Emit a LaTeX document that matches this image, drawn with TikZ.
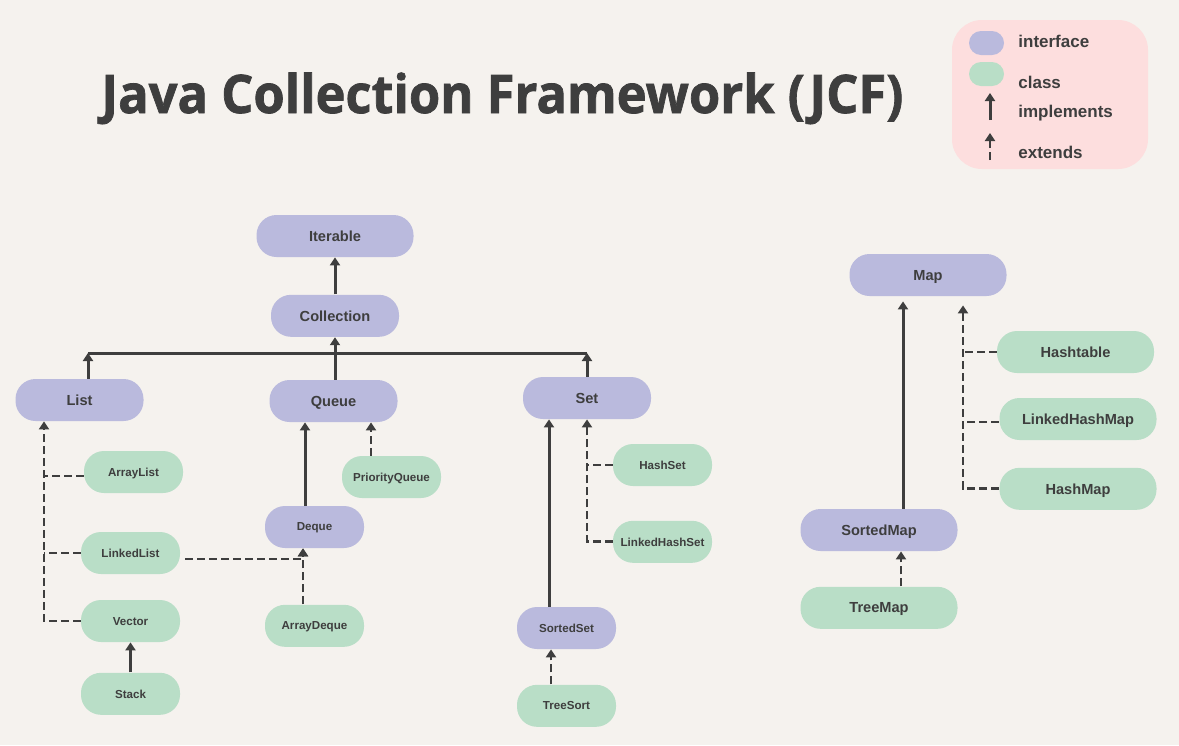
\documentclass[tikz,border=0pt]{standalone}
\usepackage{fontspec}
\setmainfont{Liberation Sans}
\newfontfamily\titlefont{Open Sans}[BoldFeatures={FakeBold=1.4}]
\usepackage{graphicx}
\usetikzlibrary{arrows.meta, positioning, calc}
\definecolor{bgcol}{HTML}{F5F2EE}
\definecolor{ink}{HTML}{3E3E3E}
\definecolor{ifcfill}{HTML}{BABADD}
\definecolor{clsfill}{HTML}{B9DEC7}
\definecolor{legfill}{HTML}{FDDEDE}
\tikzstyle{line} = [draw, -{Triangle[length=4pt,width=5pt]}, line width=1.5pt, color=ink]
\tikzstyle{dline} = [line, line width=1.4pt, dash pattern=on 4pt off 2pt]
\tikzstyle{bar} = [draw, line width=1.5pt, color=ink]
\tikzstyle{rail} = [bar, line width=1.4pt, dash pattern=on 4pt off 2pt]
\tikzstyle{iface} = [rectangle, fill=ifcfill, rounded corners=10pt,
  minimum height=21pt, inner sep=0pt, text=ink, text centered, text depth=0pt,
  font=\bfseries\fontsize{7.3}{8}\selectfont]
\tikzstyle{cls} = [iface, fill=clsfill]
\tikzstyle{wide} = [minimum width=78.5pt]
\tikzstyle{mid} = [minimum width=64pt]
\tikzstyle{small} = [minimum width=49.5pt, font=\bfseries\fontsize{5.8}{7}\selectfont]
\tikzstyle{legtext} = [anchor=west, inner sep=0pt, text=ink,
  font=\bfseries\fontsize{8.5}{10}\selectfont]

\begin{document}
\begin{tikzpicture}[x=0.5pt, y=-0.5pt, node distance=15pt]
    \fill [bgcol] (0,0) rectangle (1179,745);

    \node [anchor=base west, inner sep=0pt, text=ink] (title) at (101,113)
      {\titlefont\bfseries\fontsize{26.6}{32}\selectfont\resizebox{401pt}{\height}{Java Collection Framework (JCF)}};

    % legend
    \fill [legfill, rounded corners=15pt] (952,20) rectangle (1148,169);
    \node [iface, minimum width=17.5pt, minimum height=12pt, rounded corners=6pt] (keyifc) at (986.5,43) {};
    \node [cls, minimum width=17.5pt, minimum height=12pt, rounded corners=6pt] (keycls) at (986.5,74) {};
    \node [legtext] (keyifctext) at (1018,41) {interface};
    \node [legtext] (keyclstext) at (1018,82) {class};
    \node [legtext] (keyimptext) at (1018,113) {implements};
    \node [legtext] (keyexttext) at (1018,152) {extends};
    \coordinate (keyimpa) at (990,120);
    \coordinate (keyimpb) at (990,93);
    \coordinate (keyexta) at (990,160);
    \coordinate (keyextb) at (990,133);
    \path [line] (keyimpa) -- (keyimpb);
    \path [dline] (keyexta) -- (keyextb);

    % collection tree
    \node [iface, wide] (iterable) at (335,236) {Iterable};
    \node [iface, mid, below=18.5pt of iterable] (collection) {Collection};
    \node [iface, mid] (list) at (79.5,400) {List};
    \node [iface, mid] (queue) at (333.5,401) {Queue};
    \node [iface, mid] (set) at (587,398) {Set};

    \node [cls, small] (arraylist) at (133.5,472) {ArrayList};
    \node [cls, small] (linkedlist) at (130.5,553) {LinkedList};
    \node [cls, small] (vector) at (130.5,621) {Vector};
    \node [cls, small, below=of vector] (stack) {Stack};

    \node [cls, small] (priorityqueue) at (391.5,477) {PriorityQueue};
    \node [iface, small] (deque) at (314.5,527) {Deque};
    \node [cls, small, below=28pt of deque] (arraydeque) {ArrayDeque};

    \node [cls, small] (hashset) at (662.5,465) {HashSet};
    \node [cls, small, below=17pt of hashset] (linkedhashset) {LinkedHashSet};
    \node [iface, small] (sortedset) at (566.5,628) {SortedSet};
    \node [cls, small, below=17.5pt of sortedset] (treesort) {TreeSort};

    % map tree
    \node [iface, wide] (map) at (928,275) {Map};
    \node [cls, wide] (hashtable) at (1075.5,352) {Hashtable};
    \node [cls, wide] (linkedhashmap) at (1078,419) {LinkedHashMap};
    \node [cls, wide, below=13.5pt of linkedhashmap] (hashmap) {HashMap};
    \node [iface, wide] (sortedmap) at (879,530) {SortedMap};
    \node [cls, wide, below=17.5pt of sortedmap] (treemap) {TreeMap};

    \coordinate (bus) at (0,353);
    \coordinate (listtop) at ([xshift=4.25pt]list.north);
    \coordinate (lrail) at ([xshift=-17.75pt]list.south);
    \coordinate (dqtop) at ([xshift=-4.75pt]deque.north);
    \coordinate (pqtop) at ([xshift=-10.25pt]priorityqueue.north);
    \coordinate (dqfoot) at ([xshift=-5.75pt]deque.south);
    \coordinate (sstop) at ([xshift=-8.75pt]sortedset.north);
    \coordinate (tstop) at ([xshift=-7.75pt]treesort.north);
    \coordinate (smtop) at ([xshift=12pt]sortedmap.north);
    \coordinate (mrail) at ([xshift=17.5pt]map.south);
    \coordinate (tmtop) at ([xshift=11pt]treemap.north);

    \path [line] (collection) -- (iterable);
    \path [line] (queue.north -| collection) -- (collection);
    \path [bar] (listtop |- bus) -- (set.north |- bus);
    \path [line] (listtop) -- (listtop |- bus);
    \path [line] (set.north) -- (set.north |- bus);

    \path [dline] (vector.west) -| (lrail);
    \path [rail] ([yshift=-2pt]arraylist.west) -- ([yshift=-2pt]arraylist.west -| lrail);
    \path [rail] (linkedlist.west) -- (linkedlist.west -| lrail);
    \path [line] (stack) -- (vector);

    \path [line] (dqtop) -- (dqtop |- queue.south);
    \path [dline] (pqtop) -- (pqtop |- queue.south);
    \path [dline] (arraydeque.north -| dqfoot) -- (dqfoot);
    \path [dline, shorten <=2.5pt] ([yshift=-3pt]linkedlist.east) -| (dqfoot);

    \path [line] (sstop) -- (sstop |- set.south);
    \path [dline] (linkedhashset.west) -| (set.south);
    \path [rail] (hashset.west) -- (hashset.west -| set.south);
    \path [dline] (tstop) -- (tstop |- sortedset.south);

    \path [line, shorten >=2.5pt] (smtop) -- (smtop |- map.south);
    \path [dline, shorten >=4.5pt] (hashmap.west) -| (mrail);
    \path [rail] (hashtable.west) -- (hashtable.west -| mrail);
    \path [rail] ([yshift=-1.5pt]linkedhashmap.west) -- ([yshift=-1.5pt]linkedhashmap.west -| mrail);
    \path [dline] (tmtop) -- (tmtop |- sortedmap.south);

\end{tikzpicture}
\end{document}
